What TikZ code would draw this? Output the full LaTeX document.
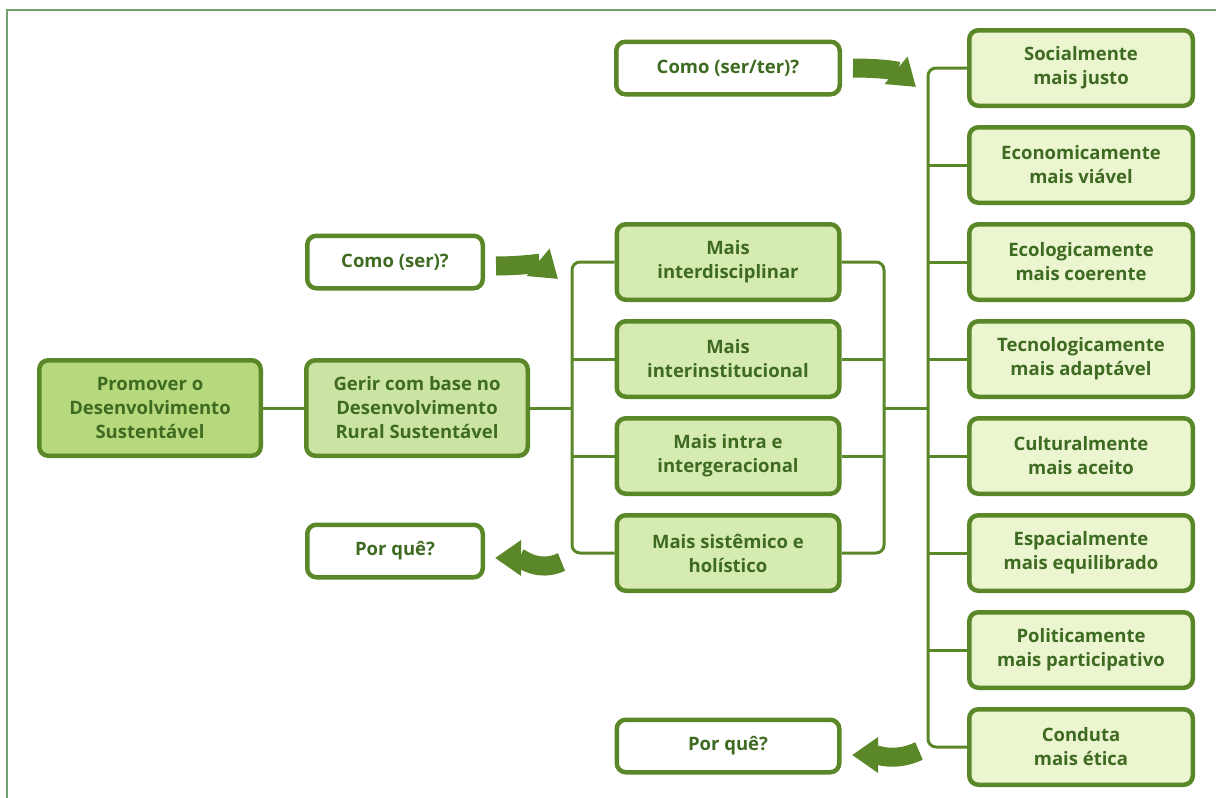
\documentclass[tikz,border=0pt]{standalone}
\usepackage{fontspec}
\setmainfont{Open Sans}
\usetikzlibrary{arrows.meta,positioning}
\definecolor{leaf}{HTML}{5A8728}
\definecolor{leafdark}{HTML}{3E6B21}
\definecolor{leafframe}{HTML}{6FA26C}
\definecolor{goalfill}{HTML}{B5D97C}
\definecolor{rootfill}{HTML}{CBE4A4}
\definecolor{midfill}{HTML}{D5EBB1}
\definecolor{rightfill}{HTML}{EBF5D0}
\tikzset{
  box/.style={draw=leaf,line width=4.5pt,rounded corners=9pt,align=center,
    text=leafdark,font=\fontsize{18.5}{24}\selectfont\bfseries,inner sep=2pt},
  goalbox/.style={box,fill=goalfill,minimum width=221.5pt,minimum height=95.5pt},
  rootbox/.style={box,fill=rootfill,minimum width=221.5pt,minimum height=95.5pt},
  midbox/.style={box,fill=midfill,minimum width=222.5pt,minimum height=75.5pt},
  sidebox/.style={box,fill=rightfill,minimum width=223.5pt,minimum height=75.5pt},
  askbox/.style={box,fill=white,minimum height=52.5pt},
  link/.style={draw=leaf,line width=3pt,rounded corners=8pt},
  bigarrow/.style={draw=leaf,line width=19pt,-{Triangle[length=26pt,width=34pt]}}
}
\begin{document}
\begin{tikzpicture}[x=1pt,y=-1pt]
\useasboundingbox (0,0) rectangle (1216,798);
\draw[leafframe,line width=2pt] (7,798) -- (7,10) -- (1216,10);

% left part
\node[goalbox] (promover) at (150,408) {Promover o\\Desenvolvimento\\Sustentável};
\node[rootbox,right=41pt of promover] (gerir) {Gerir com base no\\Desenvolvimento\\Rural Sustentável};
\node[askbox,minimum width=175.5pt] (comoser) at (395,262) {Como (ser)?};
\node[askbox,minimum width=175.5pt] (porque1) at (395,551) {Por quê?};

% middle column
\node[midbox] (mid1) at (728,262) {Mais\\interdisciplinar};
\node[midbox,below=17pt of mid1] (mid2) {Mais\\interinstitucional};
\node[midbox,below=17pt of mid2] (mid3) {Mais intra e\\intergeracional};
\node[midbox,below=17pt of mid3] (mid4) {Mais sistêmico e\\holístico};
\node[askbox,minimum width=223.5pt] (comoserter) at (728,68) {Como (ser/ter)?};
\node[askbox,minimum width=222.5pt] (porque2) at (728,746) {Por quê?};

% right column
\node[sidebox] (dim1) at (1081,68) {Socialmente\\mais justo};
\node[sidebox,below=17pt of dim1] (dim2) {Economicamente\\mais viável};
\node[sidebox,below=17pt of dim2] (dim3) {Ecologicamente\\mais coerente};
\node[sidebox,below=17pt of dim3] (dim4) {Tecnologicamente\\mais adaptável};
\node[sidebox,below=17pt of dim4] (dim5) {Culturalmente\\mais aceito};
\node[sidebox,below=17pt of dim5] (dim6) {Espacialmente\\mais equilibrado};
\node[sidebox,below=17pt of dim6] (dim7) {Politicamente\\mais participativo};
\node[sidebox,below=17pt of dim7] (dim8) {Conduta\\mais ética};

% buses
\coordinate (lbus) at (572,408);
\coordinate (mbus) at (884,408);
\coordinate (rbus) at (928,408);
\draw[link] (promover) -- (gerir);
\draw[link] (gerir.east) -- (lbus);
\draw[link] (mid1.west) -| (lbus) |- (mid4.west);
\foreach \m in {mid2,mid3} \draw[link] (\m.west) -- (lbus |- \m.west);
\draw[link] (mid1.east) -| (mbus) |- (mid4.east);
\foreach \m in {mid2,mid3} \draw[link] (\m.east) -- (mbus |- \m.east);
\draw[link] (mbus) -- (rbus);
\draw[link] (dim1.west) -| (rbus) |- (dim8.west);
\foreach \d in {dim2,dim3,dim4,dim5,dim6,dim7} \draw[link] (\d.west) -- (rbus |- \d.west);

% curved arrows
\coordinate (tip1) at (558,279);
\coordinate (tip2) at (495,558);
\coordinate (tip3) at (916,87);
\coordinate (tip4) at (852,755);
\draw[bigarrow] ([xshift=11pt,yshift=-4pt]comoser.east) to[out=0,in=140] (tip1);
\draw[bigarrow] ([xshift=-53pt,yshift=-9pt]mid4.west) to[out=205,in=0] (tip2);
\draw[bigarrow] ([xshift=11pt,yshift=0pt]comoserter.east) to[out=0,in=140] (tip3);
\draw[bigarrow] ([xshift=-48pt,yshift=-4pt]dim8.west) to[out=205,in=0] (tip4);
\end{tikzpicture}
\end{document}
